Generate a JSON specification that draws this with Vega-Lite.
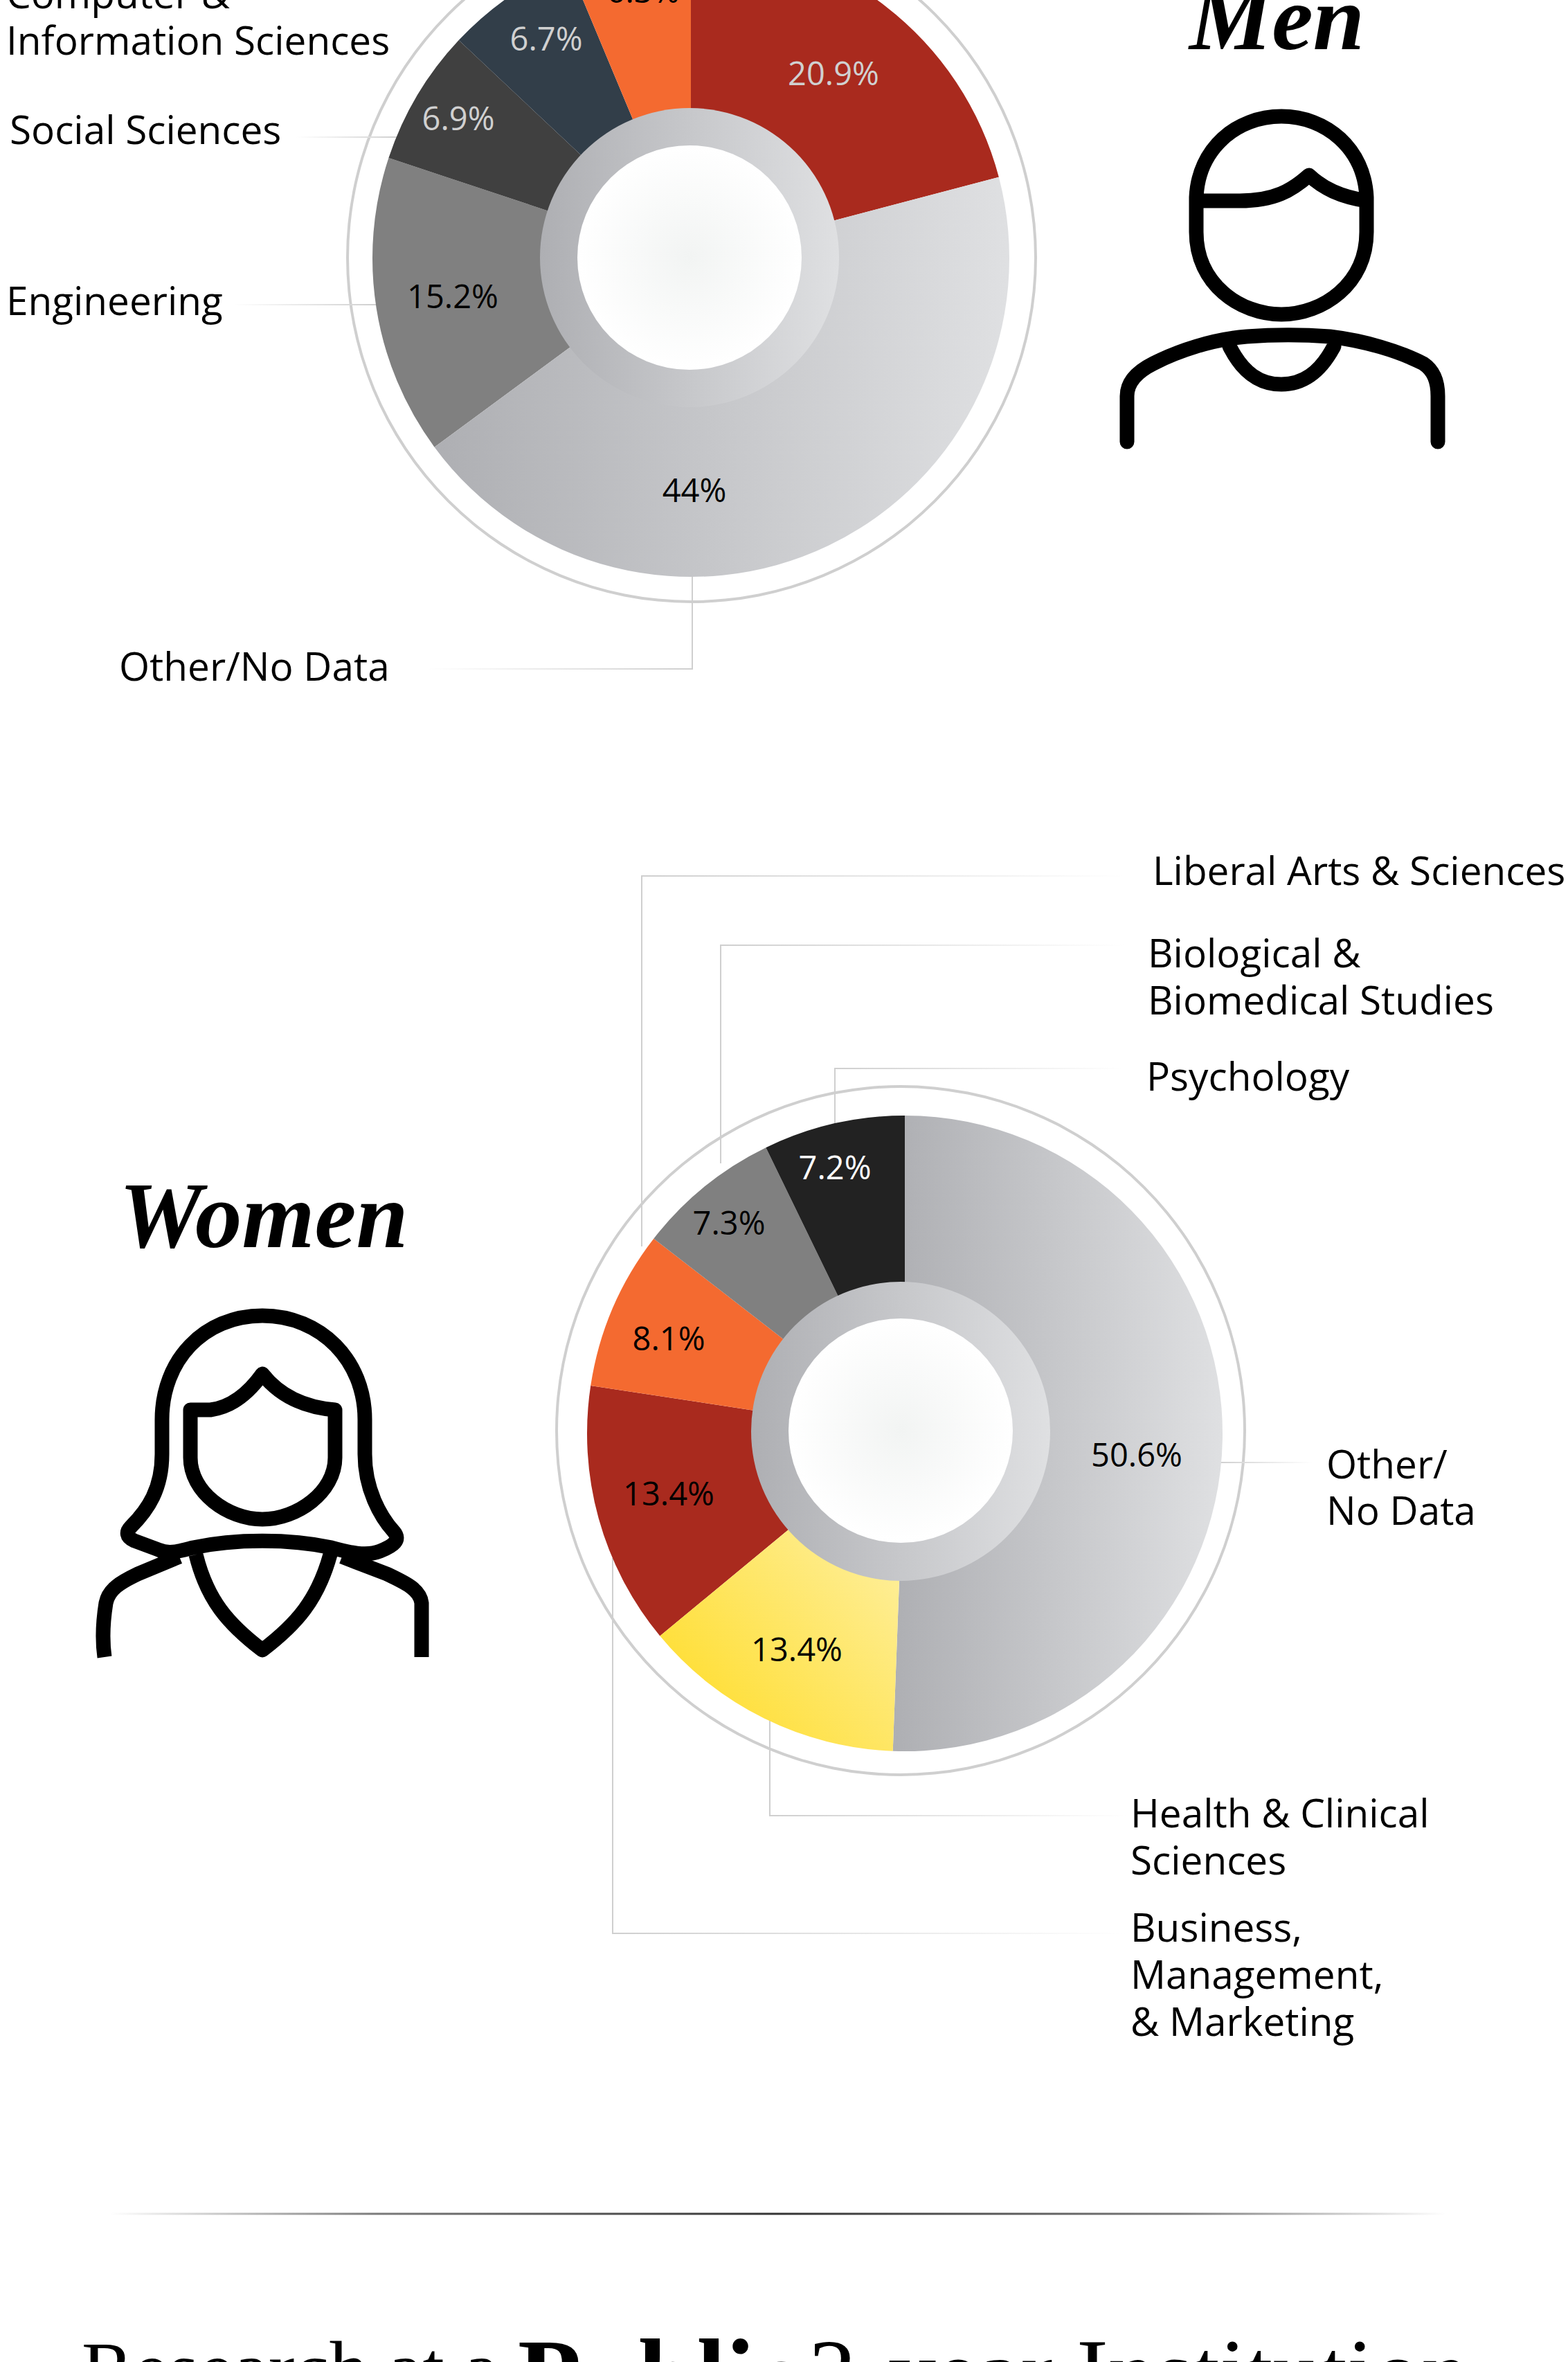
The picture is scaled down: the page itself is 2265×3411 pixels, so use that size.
{
"$schema":"https://vega.github.io/schema/vega-lite/v6.json",
"width":2265,"height":3411,"padding":0,"autosize":{"type":"none"},"background":"#ffffff",
"config":{"view":{"stroke":null},"axis":{"disable":true}},
"data":{"values":[
{"gender":"Men","order":1,"field":"Business, Management, & Marketing","share":20.9,"label":"20.9%"},
{"gender":"Men","order":2,"field":"Other/No Data","share":44,"label":"44%"},
{"gender":"Men","order":3,"field":"Engineering","share":15.2,"label":"15.2%"},
{"gender":"Men","order":4,"field":"Social Sciences","share":6.9,"label":"6.9%"},
{"gender":"Men","order":5,"field":"Computer & Information Sciences","share":6.7,"label":"6.7%"},
{"gender":"Men","order":6,"field":"Liberal Arts & Sciences","share":6.3,"label":"6.3%"},
{"gender":"Women","order":1,"field":"Other/No Data","share":50.6,"label":"50.6%"},
{"gender":"Women","order":2,"field":"Health & Clinical Sciences","share":13.4,"label":"13.4%"},
{"gender":"Women","order":3,"field":"Business, Management, & Marketing","share":13.4,"label":"13.4%"},
{"gender":"Women","order":4,"field":"Liberal Arts & Sciences","share":8.1,"label":"8.1%"},
{"gender":"Women","order":5,"field":"Biological & Biomedical Studies","share":7.3,"label":"7.3%"},
{"gender":"Women","order":6,"field":"Psychology","share":7.2,"label":"7.2%"}
]},
"layer":[
{"data":{"values":[{"a":1}]},"mark":{"type":"arc","theta":0,"theta2":6.2832,"radius":499,"radius2":495,"fill":"#cfcfcf"},"encoding":{"x":{"datum":999,"type":"quantitative","scale":{"domain":[0,2265],"range":[0,2265],"nice":false,"zero":false}},"y":{"datum":372,"type":"quantitative","scale":{"domain":[0,3411],"range":[0,3411],"nice":false,"zero":false}}}},
{"data":{"values":[{"a":1}]},"mark":{"type":"arc","theta":0,"theta2":6.2832,"radius":499,"radius2":495,"fill":"#cfcfcf"},"encoding":{"x":{"datum":1301,"type":"quantitative"},"y":{"datum":2066,"type":"quantitative"}}},

{"data":{"values":[{"a":1}]},"mark":{"type":"rect","fill":{"gradient":"linear","x1":0,"y1":0,"x2":1,"y2":0,"stops":[{"offset":0,"color":"#ffffff"},{"offset":1,"color":"#cfcfcf"}]}},"encoding":{"x":{"datum":428,"type":"quantitative"},"x2":{"datum":575},"y":{"datum":197,"type":"quantitative"},"y2":{"datum":199}}},
{"data":{"values":[{"a":1}]},"mark":{"type":"rect","fill":{"gradient":"linear","x1":0,"y1":0,"x2":1,"y2":0,"stops":[{"offset":0,"color":"#ffffff"},{"offset":1,"color":"#cfcfcf"}]}},"encoding":{"x":{"datum":337,"type":"quantitative"},"x2":{"datum":545},"y":{"datum":439,"type":"quantitative"},"y2":{"datum":441}}},
{"data":{"values":[{"a":1}]},"mark":{"type":"rect","fill":{"gradient":"linear","x1":0,"y1":0,"x2":1,"y2":0,"stops":[{"offset":0,"color":"#ffffff"},{"offset":1,"color":"#cfcfcf"}]}},"encoding":{"x":{"datum":617,"type":"quantitative"},"x2":{"datum":1001},"y":{"datum":965,"type":"quantitative"},"y2":{"datum":967}}},
{"data":{"values":[{"a":1}]},"mark":{"type":"rect","fill":"#cfcfcf"},"encoding":{"x":{"datum":999,"type":"quantitative"},"x2":{"datum":1001},"y":{"datum":830,"type":"quantitative"},"y2":{"datum":967}}},

{"data":{"values":[{"a":1}]},"mark":{"type":"rect","fill":{"gradient":"linear","x1":0,"y1":0,"x2":1,"y2":0,"stops":[{"offset":0,"color":"#cfcfcf"},{"offset":1,"color":"#ffffff"}]}},"encoding":{"x":{"datum":926,"type":"quantitative"},"x2":{"datum":1625},"y":{"datum":1264,"type":"quantitative"},"y2":{"datum":1266}}},
{"data":{"values":[{"a":1}]},"mark":{"type":"rect","fill":"#cfcfcf"},"encoding":{"x":{"datum":926,"type":"quantitative"},"x2":{"datum":928},"y":{"datum":1264,"type":"quantitative"},"y2":{"datum":1800}}},
{"data":{"values":[{"a":1}]},"mark":{"type":"rect","fill":{"gradient":"linear","x1":0,"y1":0,"x2":1,"y2":0,"stops":[{"offset":0,"color":"#cfcfcf"},{"offset":1,"color":"#ffffff"}]}},"encoding":{"x":{"datum":1040,"type":"quantitative"},"x2":{"datum":1625},"y":{"datum":1364,"type":"quantitative"},"y2":{"datum":1366}}},
{"data":{"values":[{"a":1}]},"mark":{"type":"rect","fill":"#cfcfcf"},"encoding":{"x":{"datum":1040,"type":"quantitative"},"x2":{"datum":1042},"y":{"datum":1364,"type":"quantitative"},"y2":{"datum":1680}}},
{"data":{"values":[{"a":1}]},"mark":{"type":"rect","fill":{"gradient":"linear","x1":0,"y1":0,"x2":1,"y2":0,"stops":[{"offset":0,"color":"#cfcfcf"},{"offset":1,"color":"#ffffff"}]}},"encoding":{"x":{"datum":1205,"type":"quantitative"},"x2":{"datum":1620},"y":{"datum":1542,"type":"quantitative"},"y2":{"datum":1544}}},
{"data":{"values":[{"a":1}]},"mark":{"type":"rect","fill":"#cfcfcf"},"encoding":{"x":{"datum":1205,"type":"quantitative"},"x2":{"datum":1207},"y":{"datum":1542,"type":"quantitative"},"y2":{"datum":1630}}},
{"data":{"values":[{"a":1}]},"mark":{"type":"rect","fill":{"gradient":"linear","x1":0,"y1":0,"x2":1,"y2":0,"stops":[{"offset":0,"color":"#cfcfcf"},{"offset":1,"color":"#ffffff"}]}},"encoding":{"x":{"datum":1760,"type":"quantitative"},"x2":{"datum":1895},"y":{"datum":2111,"type":"quantitative"},"y2":{"datum":2113}}},
{"data":{"values":[{"a":1}]},"mark":{"type":"rect","fill":{"gradient":"linear","x1":0,"y1":0,"x2":1,"y2":0,"stops":[{"offset":0,"color":"#cfcfcf"},{"offset":1,"color":"#ffffff"}]}},"encoding":{"x":{"datum":1111,"type":"quantitative"},"x2":{"datum":1630},"y":{"datum":2621,"type":"quantitative"},"y2":{"datum":2623}}},
{"data":{"values":[{"a":1}]},"mark":{"type":"rect","fill":"#cfcfcf"},"encoding":{"x":{"datum":1111,"type":"quantitative"},"x2":{"datum":1113},"y":{"datum":2480,"type":"quantitative"},"y2":{"datum":2623}}},
{"data":{"values":[{"a":1}]},"mark":{"type":"rect","fill":{"gradient":"linear","x1":0,"y1":0,"x2":1,"y2":0,"stops":[{"offset":0,"color":"#cfcfcf"},{"offset":1,"color":"#ffffff"}]}},"encoding":{"x":{"datum":884,"type":"quantitative"},"x2":{"datum":1625},"y":{"datum":2791,"type":"quantitative"},"y2":{"datum":2793}}},
{"data":{"values":[{"a":1}]},"mark":{"type":"rect","fill":"#cfcfcf"},"encoding":{"x":{"datum":884,"type":"quantitative"},"x2":{"datum":886},"y":{"datum":2250,"type":"quantitative"},"y2":{"datum":2793}}},

{"transform":[{"filter":"datum.gender==='Men'"},{"stack":"share","groupby":["gender"],"sort":[{"field":"order"}],"as":["s0","s1"]},{"filter":"datum.field!=='Other/No Data'"}],
 "mark":{"type":"arc","radius":460,"radius2":100},
 "encoding":{"x":{"datum":998,"type":"quantitative"},"y":{"datum":373,"type":"quantitative"},
  "theta":{"field":"s0","type":"quantitative","stack":null,"scale":{"domain":[0,100],"range":[0,6.283185]}},"theta2":{"field":"s1"},
  "color":{"field":"field","type":"nominal","legend":null,"scale":{"domain":["Business, Management, & Marketing","Liberal Arts & Sciences","Biological & Biomedical Studies","Psychology","Engineering","Social Sciences","Computer & Information Sciences"],"range":["#a92a1e","#f46a30","#808080","#222222","#808080","#404040","#323e49"]}}}},
{"transform":[{"filter":"datum.gender==='Men'"},{"stack":"share","groupby":["gender"],"sort":[{"field":"order"}],"as":["s0","s1"]},{"filter":"datum.field==='Other/No Data'"}],
 "mark":{"type":"arc","radius":460,"radius2":100,"fill":{"gradient":"linear","x1":0,"y1":0,"x2":1,"y2":0,"stops":[{"offset":0,"color":"#aeafb3"},{"offset":1,"color":"#dfe0e2"}]}},
 "encoding":{"x":{"datum":998,"type":"quantitative"},"y":{"datum":373,"type":"quantitative"},"theta":{"field":"s0","type":"quantitative","stack":null},"theta2":{"field":"s1"}}},

{"transform":[{"filter":"datum.gender==='Women'"},{"stack":"share","groupby":["gender"],"sort":[{"field":"order"}],"as":["s0","s1"]},{"filter":"datum.field!=='Other/No Data'&&datum.field!=='Health & Clinical Sciences'"}],
 "mark":{"type":"arc","radius":459,"radius2":100},
 "encoding":{"x":{"datum":1307,"type":"quantitative"},"y":{"datum":2070,"type":"quantitative"},
  "theta":{"field":"s0","type":"quantitative","stack":null},"theta2":{"field":"s1"},
  "color":{"field":"field","type":"nominal","legend":null}}},
{"transform":[{"filter":"datum.gender==='Women'"},{"stack":"share","groupby":["gender"],"sort":[{"field":"order"}],"as":["s0","s1"]},{"filter":"datum.field==='Other/No Data'"}],
 "mark":{"type":"arc","radius":459,"radius2":100,"fill":{"gradient":"linear","x1":0,"y1":0,"x2":1,"y2":0,"stops":[{"offset":0,"color":"#aeafb3"},{"offset":1,"color":"#dfe0e2"}]}},
 "encoding":{"x":{"datum":1307,"type":"quantitative"},"y":{"datum":2070,"type":"quantitative"},"theta":{"field":"s0","type":"quantitative","stack":null},"theta2":{"field":"s1"}}},
{"transform":[{"filter":"datum.gender==='Women'"},{"stack":"share","groupby":["gender"],"sort":[{"field":"order"}],"as":["s0","s1"]},{"filter":"datum.field==='Health & Clinical Sciences'"}],
 "mark":{"type":"arc","radius":459,"radius2":100,"fill":{"gradient":"linear","x1":0,"y1":1,"x2":1,"y2":0,"stops":[{"offset":0,"color":"#ffdb1e"},{"offset":1,"color":"#fef2b0"}]}},
 "encoding":{"x":{"datum":1307,"type":"quantitative"},"y":{"datum":2070,"type":"quantitative"},"theta":{"field":"s0","type":"quantitative","stack":null},"theta2":{"field":"s1"}}},

{"data":{"values":[{"a":1}]},"mark":{"type":"arc","theta":0,"theta2":6.2832,"radius":216,"radius2":0,"fill":{"gradient":"linear","x1":0,"y1":0,"x2":1,"y2":0,"stops":[{"offset":0,"color":"#aeafb3"},{"offset":1,"color":"#dfe0e2"}]}},"encoding":{"x":{"datum":996,"type":"quantitative"},"y":{"datum":372,"type":"quantitative"}}},
{"data":{"values":[{"a":1}]},"mark":{"type":"arc","theta":0,"theta2":6.2832,"radius":162,"radius2":0,"fill":{"gradient":"radial","x1":0.5,"y1":0.5,"r1":0,"x2":0.5,"y2":0.5,"r2":0.5,"stops":[{"offset":0,"color":"#f2f4f3"},{"offset":1,"color":"#ffffff"}]}},"encoding":{"x":{"datum":996,"type":"quantitative"},"y":{"datum":372,"type":"quantitative"}}},
{"data":{"values":[{"a":1}]},"mark":{"type":"arc","theta":0,"theta2":6.2832,"radius":216,"radius2":0,"fill":{"gradient":"linear","x1":0,"y1":0,"x2":1,"y2":0,"stops":[{"offset":0,"color":"#aeafb3"},{"offset":1,"color":"#dfe0e2"}]}},"encoding":{"x":{"datum":1301,"type":"quantitative"},"y":{"datum":2067,"type":"quantitative"}}},
{"data":{"values":[{"a":1}]},"mark":{"type":"arc","theta":0,"theta2":6.2832,"radius":162,"radius2":0,"fill":{"gradient":"radial","x1":0.5,"y1":0.5,"r1":0,"x2":0.5,"y2":0.5,"r2":0.5,"stops":[{"offset":0,"color":"#f2f4f3"},{"offset":1,"color":"#ffffff"}]}},"encoding":{"x":{"datum":1301,"type":"quantitative"},"y":{"datum":2066,"type":"quantitative"}}},

{"transform":[{"filter":"datum.gender==='Men'&&datum.order===1"}],"mark":{"type":"text","font":"Open Sans","fontSize":47,"baseline":"middle","fill":"#d0d0d0"},"encoding":{"x":{"datum":1204,"type":"quantitative"},"y":{"datum":109,"type":"quantitative"},"text":{"field":"label"}}},
{"transform":[{"filter":"datum.gender==='Men'&&datum.order===2"}],"mark":{"type":"text","font":"Open Sans","fontSize":47,"baseline":"middle","fill":"#000000"},"encoding":{"x":{"datum":1003,"type":"quantitative"},"y":{"datum":711,"type":"quantitative"},"text":{"field":"label"}}},
{"transform":[{"filter":"datum.gender==='Men'&&datum.order===3"}],"mark":{"type":"text","font":"Open Sans","fontSize":47,"baseline":"middle","fill":"#000000"},"encoding":{"x":{"datum":654,"type":"quantitative"},"y":{"datum":431,"type":"quantitative"},"text":{"field":"label"}}},
{"transform":[{"filter":"datum.gender==='Men'&&datum.order===4"}],"mark":{"type":"text","font":"Open Sans","fontSize":47,"baseline":"middle","fill":"#d0d0d0"},"encoding":{"x":{"datum":662,"type":"quantitative"},"y":{"datum":174,"type":"quantitative"},"text":{"field":"label"}}},
{"transform":[{"filter":"datum.gender==='Men'&&datum.order===5"}],"mark":{"type":"text","font":"Open Sans","fontSize":47,"baseline":"middle","fill":"#d0d0d0"},"encoding":{"x":{"datum":789,"type":"quantitative"},"y":{"datum":59,"type":"quantitative"},"text":{"field":"label"}}},
{"transform":[{"filter":"datum.gender==='Men'&&datum.order===6"}],"mark":{"type":"text","font":"Open Sans","fontSize":47,"baseline":"middle","fill":"#000000"},"encoding":{"x":{"datum":929,"type":"quantitative"},"y":{"datum":-10,"type":"quantitative"},"text":{"field":"label"}}},
{"transform":[{"filter":"datum.gender==='Women'&&datum.order===1"}],"mark":{"type":"text","font":"Open Sans","fontSize":47,"baseline":"middle","fill":"#000000"},"encoding":{"x":{"datum":1642,"type":"quantitative"},"y":{"datum":2104,"type":"quantitative"},"text":{"field":"label"}}},
{"transform":[{"filter":"datum.gender==='Women'&&datum.order===2"}],"mark":{"type":"text","font":"Open Sans","fontSize":47,"baseline":"middle","fill":"#000000"},"encoding":{"x":{"datum":1151,"type":"quantitative"},"y":{"datum":2385,"type":"quantitative"},"text":{"field":"label"}}},
{"transform":[{"filter":"datum.gender==='Women'&&datum.order===3"}],"mark":{"type":"text","font":"Open Sans","fontSize":47,"baseline":"middle","fill":"#000000"},"encoding":{"x":{"datum":966,"type":"quantitative"},"y":{"datum":2160,"type":"quantitative"},"text":{"field":"label"}}},
{"transform":[{"filter":"datum.gender==='Women'&&datum.order===4"}],"mark":{"type":"text","font":"Open Sans","fontSize":47,"baseline":"middle","fill":"#000000"},"encoding":{"x":{"datum":966,"type":"quantitative"},"y":{"datum":1936,"type":"quantitative"},"text":{"field":"label"}}},
{"transform":[{"filter":"datum.gender==='Women'&&datum.order===5"}],"mark":{"type":"text","font":"Open Sans","fontSize":47,"baseline":"middle","fill":"#000000"},"encoding":{"x":{"datum":1053,"type":"quantitative"},"y":{"datum":1769,"type":"quantitative"},"text":{"field":"label"}}},
{"transform":[{"filter":"datum.gender==='Women'&&datum.order===6"}],"mark":{"type":"text","font":"Open Sans","fontSize":47,"baseline":"middle","fill":"#ffffff"},"encoding":{"x":{"datum":1206,"type":"quantitative"},"y":{"datum":1689,"type":"quantitative"},"text":{"field":"label"}}},

{"data":{"values":[{"a":1}]},"mark":{"type":"text","font":"Open Sans","fontSize":56.7,"align":"left","baseline":"alphabetic","lineHeight":67,"fill":"#000000","text":["Computer &","Information Sciences"]},"encoding":{"x":{"datum":9,"type":"quantitative"},"y":{"datum":12,"type":"quantitative"}}},
{"data":{"values":[{"a":1}]},"mark":{"type":"text","font":"Open Sans","fontSize":56.7,"align":"left","baseline":"alphabetic","fill":"#000000","text":"Social Sciences"},"encoding":{"x":{"datum":14,"type":"quantitative"},"y":{"datum":208,"type":"quantitative"}}},
{"data":{"values":[{"a":1}]},"mark":{"type":"text","font":"Open Sans","fontSize":56.7,"align":"left","baseline":"alphabetic","fill":"#000000","text":"Engineering"},"encoding":{"x":{"datum":9,"type":"quantitative"},"y":{"datum":455,"type":"quantitative"}}},
{"data":{"values":[{"a":1}]},"mark":{"type":"text","font":"Open Sans","fontSize":56.7,"align":"left","baseline":"alphabetic","fill":"#000000","text":"Other/No Data"},"encoding":{"x":{"datum":172,"type":"quantitative"},"y":{"datum":983,"type":"quantitative"}}},
{"data":{"values":[{"a":1}]},"mark":{"type":"text","font":"Open Sans","fontSize":56.7,"align":"left","baseline":"alphabetic","fill":"#000000","text":"Liberal Arts & Sciences"},"encoding":{"x":{"datum":1665,"type":"quantitative"},"y":{"datum":1278,"type":"quantitative"}}},
{"data":{"values":[{"a":1}]},"mark":{"type":"text","font":"Open Sans","fontSize":56.7,"align":"left","baseline":"alphabetic","lineHeight":68,"fill":"#000000","text":["Biological &","Biomedical Studies"]},"encoding":{"x":{"datum":1658,"type":"quantitative"},"y":{"datum":1397,"type":"quantitative"}}},
{"data":{"values":[{"a":1}]},"mark":{"type":"text","font":"Open Sans","fontSize":56.7,"align":"left","baseline":"alphabetic","fill":"#000000","text":"Psychology"},"encoding":{"x":{"datum":1656,"type":"quantitative"},"y":{"datum":1575,"type":"quantitative"}}},
{"data":{"values":[{"a":1}]},"mark":{"type":"text","font":"Open Sans","fontSize":56.7,"align":"left","baseline":"alphabetic","lineHeight":67,"fill":"#000000","text":["Other/","No Data"]},"encoding":{"x":{"datum":1916,"type":"quantitative"},"y":{"datum":2135,"type":"quantitative"}}},
{"data":{"values":[{"a":1}]},"mark":{"type":"text","font":"Open Sans","fontSize":56.7,"align":"left","baseline":"alphabetic","lineHeight":68,"fill":"#000000","text":["Health & Clinical","Sciences"]},"encoding":{"x":{"datum":1633,"type":"quantitative"},"y":{"datum":2639,"type":"quantitative"}}},
{"data":{"values":[{"a":1}]},"mark":{"type":"text","font":"Open Sans","fontSize":56.7,"align":"left","baseline":"alphabetic","lineHeight":68,"fill":"#000000","text":["Business,","Management,","& Marketing"]},"encoding":{"x":{"datum":1633,"type":"quantitative"},"y":{"datum":2804,"type":"quantitative"}}},

{"data":{"values":[{"a":1}]},"mark":{"type":"text","font":"Liberation Serif","fontSize":134,"fontWeight":"bold","fontStyle":"italic","align":"left","baseline":"alphabetic","fill":"#000000","text":"Men"},"encoding":{"x":{"datum":1718,"type":"quantitative"},"y":{"datum":71,"type":"quantitative"}}},
{"data":{"values":[{"a":1}]},"mark":{"type":"text","font":"Liberation Serif","fontSize":135,"fontWeight":"bold","fontStyle":"italic","align":"left","baseline":"alphabetic","fill":"#000000","text":"Women"},"encoding":{"x":{"datum":172,"type":"quantitative"},"y":{"datum":1801,"type":"quantitative"}}},

{"data":{"values":[{"a":1}]},"mark":{"type":"point","opacity":1,"filled":false,"size":4,"stroke":"#000000","strokeWidth":21,"strokeCap":"round","strokeJoin":"round","shape":"M-123 -115 C-120 -185 -65 -232 0 -232 C65 -232 120 -185 123 -115 L123 -65 C123 10 60 54 0 54 C-60 54 -123 10 -123 -65 Z M-123 -110 L-60 -110 C-10 -110 15 -125 40 -147 C60 -128 85 -116 123 -110 M-223 238 L-223 172 C-223 150 -205 135 -185 125 C-150 107 -100 90 -50 86 C-10 83 30 83 70 86 C120 92 170 107 205 125 C220 135 226 150 226 172 L226 238 M-75 100 C-55 140 -30 155 0 155 C30 155 55 140 76 100"},"encoding":{"x":{"datum":1851,"type":"quantitative"},"y":{"datum":400,"type":"quantitative"}}},
{"data":{"values":[{"a":1}]},"mark":{"type":"point","opacity":1,"filled":false,"size":4,"stroke":"#000000","strokeWidth":21,"strokeCap":"butt","strokeJoin":"round","shape":"M0 -250 C85 -250 148 -185 148 -100 L148 -50 C148 0 170 40 190 62 C200 74 190 82 170 90 C150 98 125 92 100 85 C40 72 -40 72 -100 85 C-120 90 -135 95 -150 88 L-185 75 C-197 70 -197 62 -190 55 C-165 30 -145 0 -145 -50 L-145 -100 C-145 -185 -85 -250 0 -250 Z M-104 -114 L-75 -114 C-45 -118 -20 -138 0 -166 C22 -138 55 -118 105 -114 L105 -45 C105 5 50 44 0 44 C-50 44 -104 5 -104 -45 Z M-228 243 C-232 215 -230 190 -226 165 C-222 145 -205 135 -180 123 L-120 98 M230 243 L230 165 C228 145 205 135 180 123 L115 98 M-96 95 C-80 160 -50 195 0 233 C50 195 80 160 98 95"},"encoding":{"x":{"datum":379,"type":"quantitative"},"y":{"datum":2150,"type":"quantitative"}}},

{"data":{"values":[{"a":1}]},"mark":{"type":"rect","fill":{"gradient":"linear","x1":0,"y1":0,"x2":1,"y2":0,"stops":[{"offset":0,"color":"#ffffff"},{"offset":0.2,"color":"#7a7a7a"},{"offset":0.5,"color":"#333333"},{"offset":0.8,"color":"#7a7a7a"},{"offset":1,"color":"#ffffff"}]}},"encoding":{"x":{"datum":159,"type":"quantitative"},"x2":{"datum":2088},"y":{"datum":3195.5,"type":"quantitative"},"y2":{"datum":3198.5}}},

{"data":{"values":[{"a":1}]},"mark":{"type":"text","font":"Liberation Serif","fontSize":113,"align":"left","baseline":"alphabetic","fill":"#000000","text":"Research at a"},"encoding":{"x":{"datum":118,"type":"quantitative"},"y":{"datum":3459,"type":"quantitative"}}},
{"data":{"values":[{"a":1}]},"mark":{"type":"text","font":"Liberation Serif","fontSize":150,"fontWeight":"bold","align":"left","baseline":"alphabetic","fill":"#000000","text":"Public"},"encoding":{"x":{"datum":748,"type":"quantitative"},"y":{"datum":3482,"type":"quantitative"}}},
{"data":{"values":[{"a":1}]},"mark":{"type":"text","font":"Liberation Serif","fontSize":138,"align":"left","baseline":"alphabetic","fill":"#000000","text":"2-year Institution"},"encoding":{"x":{"datum":1168,"type":"quantitative"},"y":{"datum":3473,"type":"quantitative"}}}
]
}
